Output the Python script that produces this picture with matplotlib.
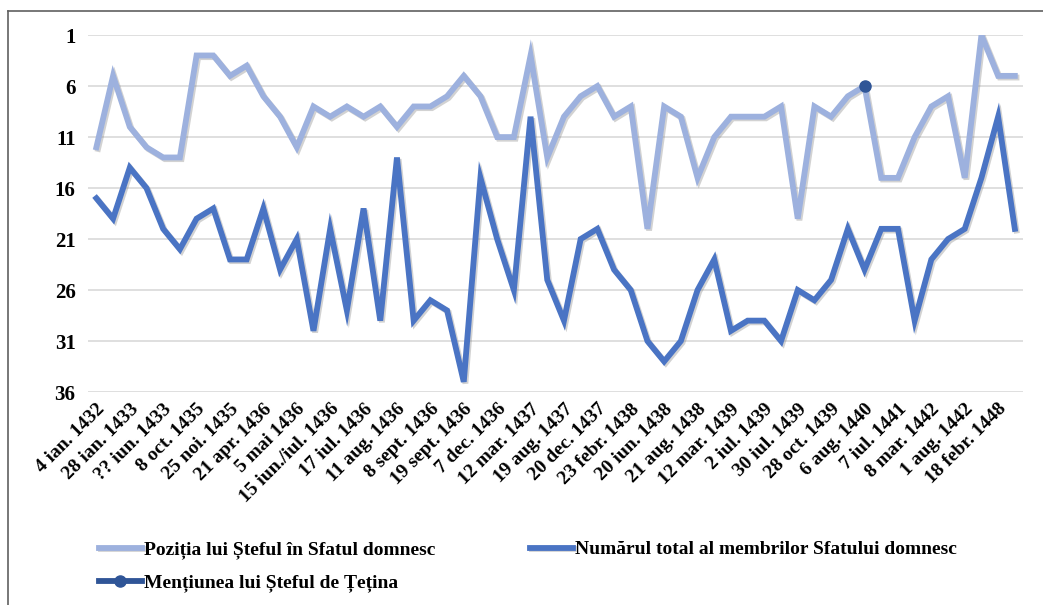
import numpy as np
import matplotlib
matplotlib.use("Agg")
import matplotlib.pyplot as plt
import matplotlib.patheffects as pe
from matplotlib.lines import Line2D

plt.rcParams['font.family'] = ['Liberation Serif', 'DejaVu Serif']
plt.rcParams['font.weight'] = 'bold'

# etichete (o eticheta la doua puncte, ca in Excel)
etichete = ['4 ian. 1432', '28 ian. 1433', '?? iun. 1433', '8 oct. 1435', '25 noi. 1435',
            '21 apr. 1436', '5 mai 1436', '15 iun./iul. 1436', '17 iul. 1436', '11 aug. 1436',
            '8 sept. 1436', '19 sept. 1436', '7 dec. 1436', '12 mar. 1437', '19 aug. 1437',
            '20 dec. 1437', '23 febr. 1438', '20 iun. 1438', '21 aug. 1438', '12 mar. 1439',
            '2 iul. 1439', '30 iul. 1439', '28 oct. 1439', '6 aug. 1440', '7 iul. 1441',
            '8 mar. 1442', '1 aug. 1442', '18 febr. 1448']

pozitia = [12, 5, 10, 12, 13, 13, 3, 3, 5, 4, 7, 9, 12, 8, 9, 8, 9, 8, 10, 8,
           8, 7, 5, 7, 11, 11, 3, 13, 9, 7, 6, 9, 8, 20, 8, 9, 15, 11, 9, 9,
           9, 8, 19, 8, 9, 7, 6, 15, 15, 11, 8, 7, 15, 1, 5, 5]

total = [17, 19, 14, 16, 20, 22, 19, 18, 23, 23, 18, 24, 21, 30, 20, 28, 18, 29, 13, 29,
         27, 28, 35, 15, 21, 26, 9, 25, 29, 21, 20, 24, 26, 31, 33, 31, 26, 23, 30, 29,
         29, 31, 26, 27, 25, 20, 24, 20, 20, 29, 23, 21, 20, 15, 9, 20]

mentiune_idx = 46
mentiune_val = 6

c_light = '#9DB1DE'
c_dark = '#4A74C4'
c_mark = '#2F5597'

x = np.arange(len(pozitia))

fig = plt.figure(figsize=(10.43, 6.05), dpi=100)
ax = fig.add_axes([0.0844, 0.352, 0.8966, 0.590])

umbra = [pe.SimpleLineShadow(offset=(1.2, -1.2), shadow_color='#808080', alpha=0.35), pe.Normal()]
l1, = ax.plot(x, pozitia, color=c_light, lw=4.2, solid_joinstyle='miter', path_effects=umbra, zorder=3)
l2, = ax.plot(x, total, color=c_dark, lw=4.2, solid_joinstyle='miter', path_effects=umbra, zorder=3)
l3, = ax.plot([mentiune_idx], [mentiune_val], color=c_mark, lw=4.2, marker='o', markersize=8, zorder=4)

ax.set_ylim(36, 1)
ax.set_yticks([1, 6, 11, 16, 21, 26, 31, 36])
ax.set_xlim(-0.5, len(x) - 0.5)
ax.set_xticks(x[::2])
ax.set_xticklabels(etichete, rotation=45, ha='right', rotation_mode='anchor', fontsize=14)
ax.tick_params(axis='y', labelsize=15, length=0, pad=9)
ax.tick_params(axis='x', length=0, pad=6)
ax.grid(axis='y', color='#D9D9D9', lw=1.2)
for s in ax.spines.values():
    s.set_visible(False)

# ordine pentru doua coloane ca in original
leg = fig.legend([l1, l3, l2],
                 ['Poziția lui Șteful în Sfatul domnesc', 'Mențiunea lui Șteful de Țețina',
                  'Numărul total al membrilor Sfatului domnesc'],
                 ncol=2, loc='upper left', bbox_to_anchor=(0.078, 0.135), frameon=False,
                 fontsize=14, handlelength=2.2, handletextpad=0.1, columnspacing=4.9,
                 labelspacing=0.75)

# chenarul figurii
fig.add_artist(Line2D([8 / 1043, 8 / 1043], [0, 1 - 11 / 605], color='#606060', lw=1.2))
fig.add_artist(Line2D([8 / 1043, 1], [1 - 11 / 605, 1 - 11 / 605], color='#606060', lw=1.2))

fig.savefig('out.png', dpi=100)
